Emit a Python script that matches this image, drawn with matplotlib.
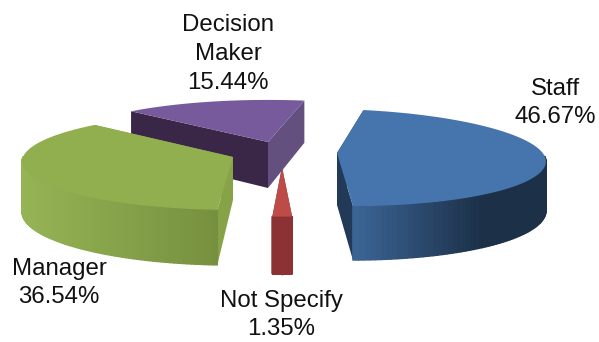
import numpy as np
import matplotlib
matplotlib.use('Agg')
import matplotlib.pyplot as plt
from matplotlib.collections import PolyCollection

plt.rcParams['font.family'] = ['Liberation Sans', 'DejaVu Sans']

categories = ['Staff', 'Not Specify', 'Manager', 'Decision\nMaker']
percents = [46.67, 1.35, 36.54, 15.44]

# look of each exploded slice, all in figure pixels
apex_x = [337, 282, 233, 268]
apex_y = [153, 167, 157, 142]
radius_x = [208, 212, 210, 208]
radius_y = [48, 45, 48, 46]
depth = [49, 52, 50, 46]
apex_depth = [52, 52, 43, 46]
tilt = [4, 0, 0, 0]
angle_shift = [-1, -2.5, -4, -4]
top_col = ['#4675ae', '#bd4b47', '#92af50', '#765a9b']
cut_start_col = ['#223a58', '#8c3235', '#87a348', '#3a2748']   # cut face at the first edge
cut_end_col = ['#223a58', '#8c3235', '#87a348', '#64507f']     # cut face at the last edge
wall_left = ['#3c6596', '#8c3235', '#96b455', '#3a2748']
wall_right = ['#1c3048', '#8c3235', '#76903f', '#3a2748']
label_x = [555, 281, 59, 228]
label_y = [103, 315, 283, 54]
draw_order = [1, 3, 2, 0]

start_angle = 83
k = 0.093  # perspective, far side smaller


def project(i, theta):
    u = np.cos(np.radians(theta))
    v = np.sin(np.radians(theta))
    s = 1 + k * v
    return apex_x[i] + radius_x[i] * u / s, apex_y[i] - radius_y[i] * v / s + tilt[i] * u, depth[i] / s


def hex2rgb(c):
    return np.array(matplotlib.colors.to_rgb(c))


fig = plt.figure(figsize=(5.99, 3.42), dpi=100)
ax = fig.add_axes([0, 0, 1, 1])
ax.set_xlim(0, 599)
ax.set_ylim(342, 0)
ax.axis('off')

# slice angles from the values, clockwise
spans = np.array(percents) / 100 * 360
ends = start_angle - np.cumsum(spans)
starts = ends + spans

for i in draw_order:
    t0 = starts[i] + angle_shift[i]
    t1 = ends[i] + angle_shift[i]
    th = np.linspace(t0, t1, 121)
    x, y, d = project(i, th)
    ax_, ay_ = apex_x[i], apex_y[i]
    h = apex_depth[i]

    # cut faces
    ax.fill([ax_, x[0], x[0], ax_], [ay_, y[0], y[0] + d[0], ay_ + h], color=cut_start_col[i], lw=0)
    ax.fill([ax_, x[-1], x[-1], ax_], [ay_, y[-1], y[-1] + d[-1], ay_ + h], color=cut_end_col[i], lw=0)

    # outer wall, only the part on the near side
    near = np.sin(np.radians(th)) < 0.02
    if near.sum() > 1:
        xn, yn, dn = x[near], y[near], d[near]
        polys = []
        cols = []
        lo, hi = xn.min(), xn.max()
        for j in range(len(xn) - 1):
            polys.append([(xn[j], yn[j]), (xn[j + 1], yn[j + 1]),
                          (xn[j + 1], yn[j + 1] + dn[j + 1]), (xn[j], yn[j] + dn[j])])
            f = ((xn[j] + xn[j + 1]) / 2 - lo) / (hi - lo)
            f = min(1, f * 1.5) if i == 0 else f
            cols.append((1 - f) * hex2rgb(wall_left[i]) + f * hex2rgb(wall_right[i]))
        ax.add_collection(PolyCollection(polys, facecolors=cols, edgecolors=cols, linewidths=1.0))

    # top face
    ax.fill(np.r_[ax_, x], np.r_[ay_, y], color=top_col[i], lw=0)

for i in range(len(categories)):
    ax.text(label_x[i], label_y[i], '%s\n%.2f%%' % (categories[i], percents[i]),
            fontsize=17.3, ha='center', va='center', linespacing=1.4, color='#111111')

fig.savefig('out.png', dpi=100)
